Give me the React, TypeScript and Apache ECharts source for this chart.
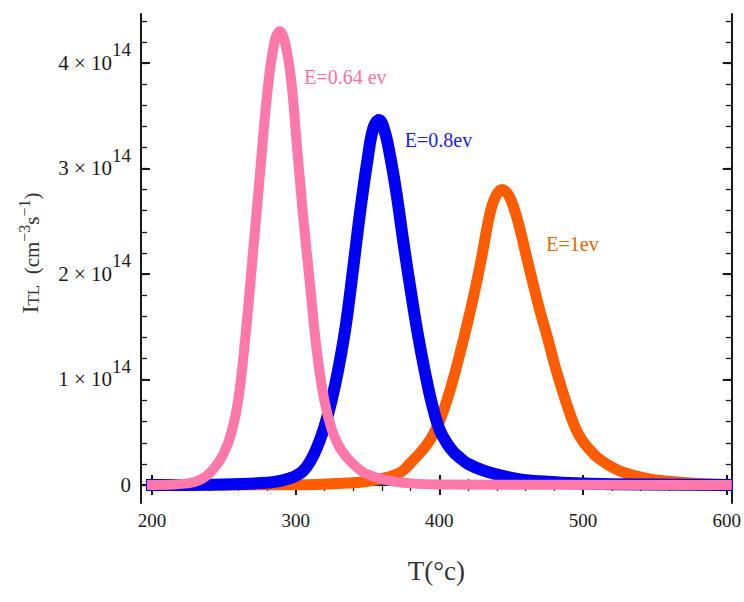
import { useEffect, useRef } from "react";
import * as echarts from "echarts";

// Temperature (°C) and TL intensity (in units of 10^14 cm^-3 s^-1)
const pinkT = [200, 215, 225, 230, 235, 240, 245, 250, 255, 260, 265, 270, 275, 280, 285, 289, 293, 297, 301, 305, 310, 315, 320, 325, 330, 335, 340, 345, 350, 360, 370, 380, 400, 600];
const pinkI = [0, 0.005, 0.015, 0.03, 0.06, 0.11, 0.19, 0.3, 0.48, 0.8, 1.4, 2.15, 2.92, 3.68, 4.18, 4.3, 4.17, 3.82, 3.2, 2.58, 1.9, 1.24, 0.8, 0.53, 0.37, 0.27, 0.2, 0.14, 0.1, 0.055, 0.03, 0.015, 0.005, 0];

const blueT = [200, 250, 280, 290, 295, 300, 305, 310, 315, 320, 325, 330, 335, 340, 345, 350, 354, 358, 362, 366, 370, 375, 380, 385, 390, 395, 400, 405, 410, 415, 420, 430, 440, 455, 470, 490, 520, 600];
const blueI = [0, 0.005, 0.02, 0.04, 0.06, 0.085, 0.13, 0.22, 0.36, 0.55, 0.8, 1.12, 1.52, 2.05, 2.6, 3.08, 3.38, 3.46, 3.35, 3.1, 2.78, 2.3, 1.85, 1.43, 1.07, 0.76, 0.53, 0.4, 0.31, 0.25, 0.2, 0.14, 0.1, 0.055, 0.035, 0.018, 0.007, 0];

const orangeT = [200, 300, 320, 340, 350, 360, 370, 375, 380, 385, 390, 395, 400, 405, 410, 415, 420, 425, 430, 435, 439, 443.5, 448, 452, 456, 460, 465, 470, 475, 480, 485, 490, 495, 500, 505, 510, 520, 530, 545, 560, 580, 600];
const orangeI = [0, 0.002, 0.008, 0.02, 0.035, 0.06, 0.1, 0.14, 0.21, 0.28, 0.36, 0.46, 0.6, 0.79, 1.02, 1.28, 1.56, 1.86, 2.2, 2.56, 2.73, 2.8, 2.75, 2.62, 2.43, 2.2, 1.92, 1.65, 1.41, 1.15, 0.92, 0.71, 0.53, 0.41, 0.33, 0.26, 0.17, 0.11, 0.06, 0.035, 0.015, 0.005];

const seriesNames = ["E=1ev", "E=0.8ev", "E=0.64 ev"];

// tick values
const xMajorTicks = [200, 300, 400, 500, 600];
const xMinorTicks = [200, 220, 240, 260, 280, 300, 320, 340, 360, 380, 400, 420, 440, 460, 480, 500, 520, 540, 560, 580, 600];
const yMajorTicks = [0, 1, 2, 3, 4];
const yMinorTicks = [0, 0.2, 0.4, 0.6, 0.8, 1, 1.2, 1.4, 1.6, 1.8, 2, 2.2, 2.4, 2.6, 2.8, 3, 3.2, 3.4, 3.6, 3.8, 4, 4.2, 4.4];

// annotation anchors (data coordinates): pink, blue, orange
const annotT = [306, 376, 474.4];
const annotI = [3.87, 3.27, 2.28];

const X_MIN = 192.4;
const X_MAX = 603.5;
const Y_MIN = -0.171;
const Y_MAX = 4.464;

const SERIF = "'Liberation Serif', 'Times New Roman', serif";
const lineColors = ["#ff5c00", "#0000f2", "#ff78a9"];
const textColors = ["#e06800", "#1a1aff", "#ff70a4"];
const lineWidths = [11, 12, 10];

const zip = (a: number[], b: number[]) => a.map((v, i) => [v, b[i]]);

export default function App() {
  const ref = useRef<HTMLDivElement>(null);
  useEffect(() => {
    const chart = echarts.init(ref.current!, null, { renderer: "svg" });
    const frameLine = { show: true, lineStyle: { color: "#1a1a1a", width: 2 } };
    const mkX = (position: string, major: boolean, labels: boolean, name?: boolean) => ({
      type: "value",
      position,
      min: X_MIN,
      max: X_MAX,
      axisLine: major ? frameLine : { show: false },
      splitLine: { show: false },
      axisTick: {
        show: true,
        inside: true,
        length: major ? 10 : 6,
        customValues: major ? xMajorTicks : xMinorTicks,
        lineStyle: { color: "#1a1a1a", width: major ? 2 : 1.3 },
      },
      axisLabel: labels
        ? { show: true, customValues: xMajorTicks, margin: 8, fontSize: 19, fontFamily: SERIF, color: "#1a1a1a" }
        : { show: false },
      ...(name
        ? {
            name: "T(°c)",
            nameLocation: "middle",
            nameGap: 54,
            nameTextStyle: { fontSize: 27, fontFamily: SERIF, color: "#333" },
          }
        : {}),
    });
    const mkY = (position: string, major: boolean, labels: boolean) => ({
      type: "value",
      position,
      min: Y_MIN,
      max: Y_MAX,
      axisLine: major ? frameLine : { show: false },
      splitLine: { show: false },
      axisTick: {
        show: true,
        inside: true,
        length: major ? 9 : 6,
        customValues: major ? yMajorTicks : yMinorTicks,
        lineStyle: { color: "#1a1a1a", width: major ? 2 : 1.3 },
      },
      axisLabel: labels
        ? {
            show: true,
            customValues: yMajorTicks,
            margin: 10,
            formatter: (v: number) => (v === 0 ? "{m|0}" : `{m|${v} × 10}{s|14}`),
            rich: {
              m: { fontSize: 21, lineHeight: 21, fontFamily: SERIF, color: "#1a1a1a", verticalAlign: "bottom" },
              s: { fontSize: 19, lineHeight: 19, fontFamily: SERIF, color: "#1a1a1a", verticalAlign: "bottom", padding: [0, 0, 14, 0] },
            },
          }
        : { show: false },
    });

    const data = [zip(orangeT, orangeI), zip(blueT, blueI), zip(pinkT, pinkI)];

    chart.setOption({
      animation: false,
      backgroundColor: "#ffffff",
      grid: { left: 141, right: 10, top: 14, bottom: 99, containLabel: false },
      xAxis: [mkX("bottom", true, true, true), mkX("bottom", false, false), mkX("top", true, false), mkX("top", false, false)],
      yAxis: [mkY("left", true, true), mkY("left", false, false), mkY("right", true, false), mkY("right", false, false)],
      series: data.map((d, i) => ({
        type: "line",
        name: seriesNames[i],
        xAxisIndex: 0,
        yAxisIndex: 0,
        data: d,
        showSymbol: false,
        symbol: "none",
        smooth: 0.4,
        clip: false,
        lineStyle: { color: lineColors[i], width: lineWidths[i], cap: "square", join: "round" },
        z: 2 + i,
      })),
    });

    const annotOrder = [2, 1, 0];
    const annots = annotT.map((t, k) => {
      const si = annotOrder[k];
      const [x, y] = chart.convertToPixel({ xAxisIndex: 0, yAxisIndex: 0 }, [t, annotI[k]]) as number[];
      return {
        type: "text",
        x,
        y,
        style: {
          text: seriesNames[si],
          fill: textColors[si],
          font: `20px ${SERIF}`,
          align: "left",
          verticalAlign: "middle",
        },
        z: 10,
      };
    });

    chart.setOption({
      graphic: [
        ...annots,
        {
          type: "text",
          x: 30,
          y: 253,
          rotation: Math.PI / 2,
          style: {
            text: "{i|I}{b|TL}{n|  (cm}{p|−3}{n|s}{p|−1}{n|)}",
            align: "center",
            verticalAlign: "middle",
            rich: {
              i: { fontSize: 24, lineHeight: 24, fontFamily: SERIF, fill: "#333", verticalAlign: "bottom" },
              b: { fontSize: 17, lineHeight: 17, fontFamily: SERIF, fill: "#333", verticalAlign: "bottom" },
              n: { fontSize: 21, lineHeight: 22, fontFamily: SERIF, fill: "#333", verticalAlign: "bottom" },
              p: { fontSize: 16, lineHeight: 16, fontFamily: SERIF, fill: "#333", verticalAlign: "bottom", padding: [0, 0, 10, 0] },
            },
          },
          z: 10,
        },
      ],
    });

    return () => chart.dispose();
  }, []);
  return <div ref={ref} style={{ position: "absolute", left: 0, top: 0, width: 744, height: 602 }} />;
}
